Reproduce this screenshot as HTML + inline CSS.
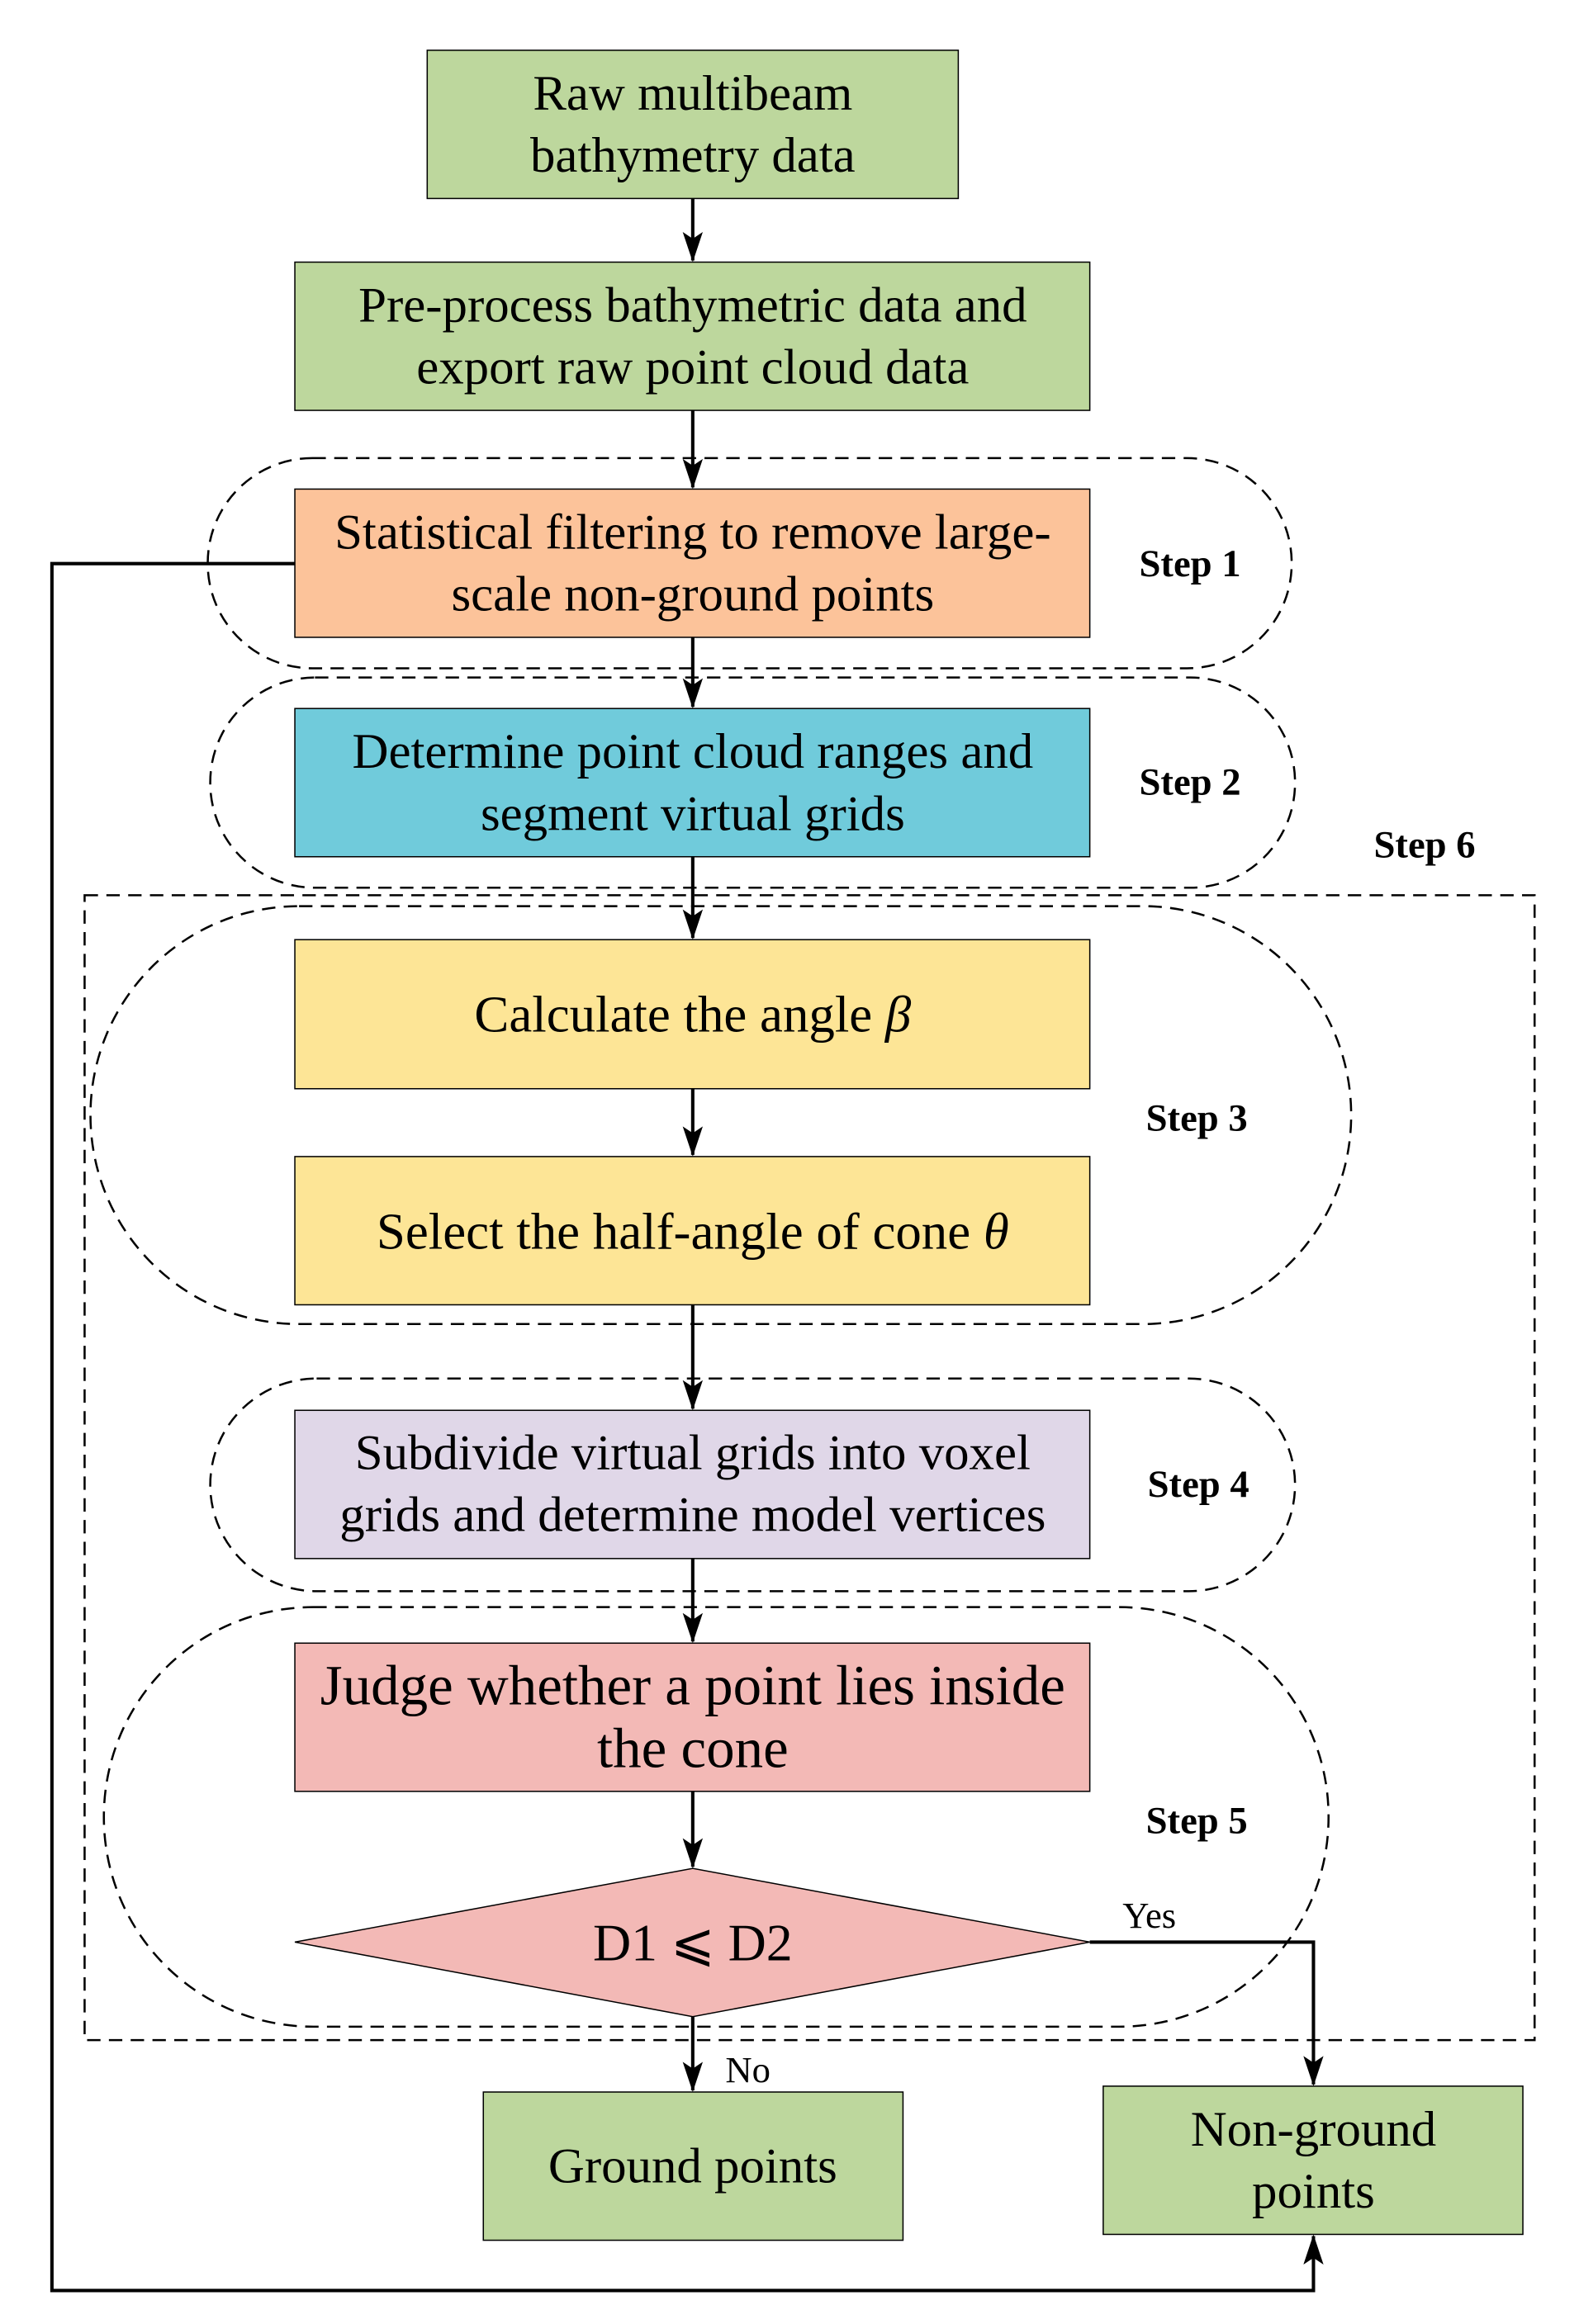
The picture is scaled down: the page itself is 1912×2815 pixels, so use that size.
<!DOCTYPE html>
<html><head><style>html,body{margin:0;padding:0;background:#fff}svg{display:block}</style></head><body>
<svg width="1912" height="2815" viewBox="0 0 1885 2775" preserveAspectRatio="none" xmlns="http://www.w3.org/2000/svg" font-family="Liberation Serif, serif">
<defs>
<marker id="b" markerWidth="36" markerHeight="36" refX="34" refY="12" orient="auto" markerUnits="userSpaceOnUse"><path d="M0,0 L36,12 L0,24 L8,12 Z" fill="#000"/></marker></defs>
<g fill="none" stroke="#000" stroke-width="2.5" stroke-dasharray="16,10">
<rect x="101" y="1069" width="1731" height="1367"/>
<rect x="248" y="547" width="1294" height="251" rx="125"/>
<rect x="251" y="809" width="1295" height="251" rx="125"/>
<rect x="108" y="1082" width="1505" height="499" rx="249"/>
<rect x="251" y="1646" width="1295" height="254" rx="127"/>
<rect x="124" y="1919" width="1462" height="501" rx="250"/>
</g>
<g stroke="#000" stroke-width="1.5">
<rect x="510" y="60" width="634" height="177" fill="#bdd79d"/>
<rect x="352" y="313" width="949" height="177" fill="#bdd79d"/>
<rect x="352" y="584" width="949" height="177" fill="#fcc39a"/>
<rect x="352" y="846" width="949" height="177" fill="#70cbdb"/>
<rect x="352" y="1122" width="949" height="178" fill="#fde596"/>
<rect x="352" y="1381" width="949" height="177" fill="#fde596"/>
<rect x="352" y="1684" width="949" height="177" fill="#e0d7e8"/>
<rect x="352" y="1962" width="949" height="177" fill="#f3b9b6"/>
<polygon points="352,2319 827,2231 1301,2319 827,2408" fill="#f3b9b6"/>
<rect x="577" y="2498" width="501" height="177" fill="#bdd79d"/>
<rect x="1317" y="2491" width="501" height="177" fill="#bdd79d"/>
</g>
<g stroke="#000" stroke-width="4" fill="none" marker-end="url(#b)">
<line x1="827" y1="237" x2="827" y2="311"/>
<line x1="827" y1="490" x2="827" y2="582"/>
<line x1="827" y1="761" x2="827" y2="844"/>
<line x1="827" y1="1023" x2="827" y2="1120"/>
<line x1="827" y1="1300" x2="827" y2="1379"/>
<line x1="827" y1="1558" x2="827" y2="1682"/>
<line x1="827" y1="1861" x2="827" y2="1960"/>
<line x1="827" y1="2139" x2="827" y2="2229"/>
<line x1="827" y1="2408" x2="827" y2="2496"/>
<polyline points="1301,2319 1568,2319 1568,2489"/>
<polyline points="352,673 62,673 62,2735 1568,2735 1568,2670"/>
</g>
<g font-size="60" text-anchor="middle" fill="#000">
<text x="827" y="131">Raw multibeam</text><text x="827" y="205">bathymetry data</text>
<text x="827" y="384">Pre-process bathymetric data and</text><text x="827" y="458">export raw point cloud data</text>
<text x="827" y="655">Statistical filtering to remove large-</text><text x="827" y="729">scale non-ground points</text>
<text x="827" y="917">Determine point cloud ranges and</text><text x="827" y="991">segment virtual grids</text>
<text x="827" y="1232" font-size="62">Calculate the  angle <tspan font-style="italic">β</tspan></text>
<text x="827" y="1491" font-size="62">Select the half-angle of cone <tspan font-style="italic">θ</tspan></text>
<text x="827" y="1754">Subdivide virtual grids into voxel</text><text x="827" y="1828">grids and determine model vertices</text>
<text x="827" y="2035" font-size="68">Judge whether a point lies inside</text><text x="827" y="2110" font-size="68">the cone</text>
<text x="827" y="2341" font-size="63">D1 ⩽ D2</text>
<text x="827" y="2606">Ground points</text>
<text x="1568" y="2562">Non-ground</text><text x="1568" y="2636">points</text>
</g>
<g font-size="46" font-weight="bold" fill="#000">
<text x="1360" y="688">Step 1</text><text x="1360" y="949">Step 2</text>
<text x="1640" y="1024">Step 6</text><text x="1368" y="1350">Step 3</text>
<text x="1370" y="1787">Step 4</text><text x="1368" y="2189">Step 5</text>
</g>
<g font-size="44" fill="#000"><text x="1340" y="2302">Yes</text><text x="866" y="2486">No</text></g>
</svg>
</body></html>
